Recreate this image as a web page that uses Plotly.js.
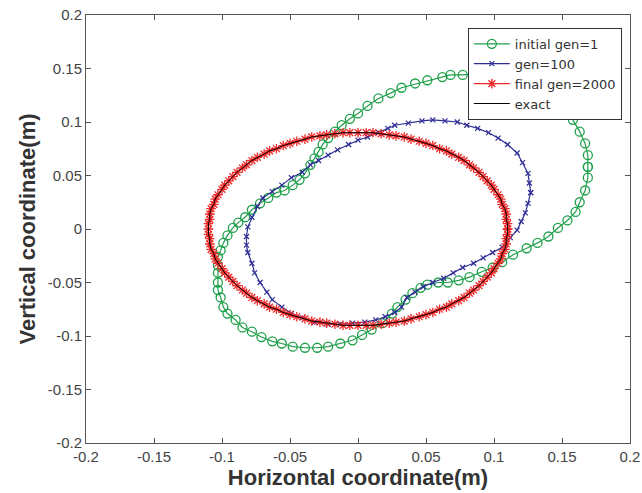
<!DOCTYPE html>
<html>
<head>
<meta charset="utf-8">
<script src="https://cdn.plot.ly/plotly-3.0.1.min.js"></script>
<style>html,body{margin:0;padding:0;background:#fff;}#chart{width:642px;height:493px;}</style>
</head>
<body>
<div id="chart"></div>
<script>
// initial gen=1 (green circles)
const gen1X = [0.169,0.169,0.167,0.163,0.158,0.152,0.146,0.138,0.130,0.122,0.113,0.104,0.096,0.087,0.077,0.068,0.062,0.051,0.042,0.032,0.024,0.015,0.007,0.000,-0.006,-0.012,-0.017,-0.022,-0.026,-0.029,-0.032,-0.035,-0.039,-0.043,-0.048,-0.054,-0.060,-0.066,-0.072,-0.078,-0.083,-0.088,-0.092,-0.096,-0.099,-0.101,-0.103,-0.103,-0.103,-0.103,-0.103,-0.101,-0.099,-0.096,-0.090,-0.085,-0.078,-0.071,-0.063,-0.056,-0.048,-0.039,-0.030,-0.022,-0.013,-0.004,0.003,0.010,0.018,0.025,0.029,0.035,0.040,0.046,0.051,0.059,0.066,0.074,0.082,0.091,0.099,0.106,0.114,0.124,0.132,0.140,0.147,0.154,0.160,0.163,0.167,0.169,0.169];
const gen1Y = [0.058,0.069,0.080,0.091,0.102,0.111,0.120,0.127,0.134,0.138,0.142,0.144,0.145,0.145,0.144,0.144,0.142,0.139,0.136,0.132,0.127,0.122,0.115,0.108,0.103,0.097,0.091,0.085,0.079,0.072,0.066,0.060,0.052,0.046,0.041,0.036,0.034,0.029,0.024,0.018,0.011,0.006,0.001,-0.006,-0.013,-0.020,-0.026,-0.034,-0.041,-0.050,-0.057,-0.064,-0.073,-0.079,-0.085,-0.092,-0.096,-0.101,-0.105,-0.107,-0.110,-0.111,-0.111,-0.110,-0.107,-0.104,-0.099,-0.094,-0.088,-0.079,-0.073,-0.066,-0.060,-0.055,-0.052,-0.050,-0.050,-0.048,-0.045,-0.040,-0.036,-0.031,-0.024,-0.018,-0.013,-0.007,0.001,0.008,0.016,0.025,0.036,0.048,0.058];

// gen=100 (blue crosses)
const gen100X = [0.127,0.126,0.125,0.121,0.117,0.110,0.103,0.096,0.088,0.080,0.073,0.064,0.055,0.047,0.037,0.027,0.022,0.015,0.007,0.000,-0.007,-0.015,-0.022,-0.029,-0.035,-0.041,-0.049,-0.056,-0.063,-0.070,-0.074,-0.078,-0.081,-0.082,-0.082,-0.081,-0.078,-0.076,-0.072,-0.067,-0.063,-0.056,-0.049,-0.041,-0.032,-0.022,-0.013,-0.004,0.005,0.013,0.020,0.027,0.032,0.036,0.042,0.048,0.055,0.063,0.070,0.077,0.085,0.092,0.099,0.106,0.112,0.117,0.120,0.123,0.125,0.127];
const gen100Y = [0.034,0.043,0.052,0.062,0.071,0.079,0.085,0.090,0.094,0.097,0.100,0.101,0.102,0.101,0.099,0.097,0.094,0.090,0.086,0.083,0.079,0.074,0.069,0.064,0.060,0.053,0.048,0.041,0.035,0.029,0.021,0.011,0.002,-0.007,-0.015,-0.022,-0.032,-0.041,-0.050,-0.059,-0.066,-0.073,-0.079,-0.083,-0.087,-0.089,-0.089,-0.088,-0.087,-0.085,-0.082,-0.078,-0.073,-0.064,-0.059,-0.054,-0.050,-0.046,-0.041,-0.036,-0.032,-0.027,-0.022,-0.017,-0.008,-0.001,0.007,0.015,0.024,0.034];

// final gen=2000 (red) and exact (black)
const finalX = [0.110,0.110,0.109,0.109,0.108,0.106,0.105,0.103,0.100,0.098,0.095,0.092,0.089,0.085,0.082,0.078,0.074,0.069,0.065,0.060,0.055,0.050,0.045,0.039,0.034,0.028,0.023,0.017,0.011,0.006,0.000,
 -0.006,-0.011,-0.017,-0.023,-0.028,-0.034,-0.039,-0.045,-0.050,-0.055,-0.060,-0.065,-0.069,-0.074,-0.078,-0.082,-0.085,-0.089,-0.092,-0.095,-0.098,-0.100,-0.103,-0.105,-0.106,-0.108,-0.109,-0.109,-0.110,-0.110,
 -0.110,-0.109,-0.109,-0.108,-0.106,-0.105,-0.103,-0.100,-0.098,-0.095,-0.092,-0.089,-0.085,-0.082,-0.078,-0.074,-0.069,-0.065,-0.060,-0.055,-0.050,-0.045,-0.039,-0.034,-0.028,-0.023,-0.017,-0.011,-0.006,0.000,
 0.006,0.011,0.017,0.023,0.028,0.034,0.039,0.045,0.050,0.055,0.060,0.065,0.069,0.074,0.078,0.082,0.085,0.089,0.092,0.095,0.098,0.100,0.103,0.105,0.106,0.108,0.109,0.109,0.110,0.110];
const finalY = [0.000,0.005,0.009,0.014,0.019,0.023,0.028,0.032,0.037,0.041,0.045,0.049,0.053,0.057,0.060,0.064,0.067,0.070,0.073,0.075,0.078,0.080,0.082,0.084,0.086,0.087,0.088,0.089,0.090,0.090,0.090,
 0.090,0.090,0.089,0.088,0.087,0.086,0.084,0.082,0.080,0.078,0.075,0.073,0.070,0.067,0.064,0.060,0.057,0.053,0.049,0.045,0.041,0.037,0.032,0.028,0.023,0.019,0.014,0.009,0.005,0.000,
 -0.005,-0.009,-0.014,-0.019,-0.023,-0.028,-0.032,-0.037,-0.041,-0.045,-0.049,-0.053,-0.057,-0.060,-0.064,-0.067,-0.070,-0.073,-0.075,-0.078,-0.080,-0.082,-0.084,-0.086,-0.087,-0.088,-0.089,-0.090,-0.090,-0.090,
 -0.090,-0.090,-0.089,-0.088,-0.087,-0.086,-0.084,-0.082,-0.080,-0.078,-0.075,-0.073,-0.070,-0.067,-0.064,-0.060,-0.057,-0.053,-0.049,-0.045,-0.041,-0.037,-0.032,-0.028,-0.023,-0.019,-0.014,-0.009,-0.005,0.000];

const tickVals = [-0.2,-0.15,-0.1,-0.05,0,0.05,0.1,0.15,0.2];
const tickText = ['-0.2','-0.15','-0.1','-0.05','0','0.05','0.1','0.15','0.2'];

const FONT = 'Liberation Sans, Arial, sans-serif';
const GREEN = '#1fa04a', BLUE = '#2e2e96', RED = '#f02828';

const traces = [
  {x: gen1X, y: gen1Y, name: 'initial gen=1', type: 'scatter', mode: 'lines+markers',
   line: {color: GREEN, width: 1.2},
   marker: {symbol: 'circle-open', size: 9, color: GREEN, line: {width: 1.3, color: GREEN}}},
  {x: gen100X, y: gen100Y, name: 'gen=100', type: 'scatter', mode: 'lines+markers',
   line: {color: BLUE, width: 1.2},
   marker: {symbol: 'x-thin-open', size: 5, color: BLUE, line: {width: 1.2, color: BLUE}}},
  {x: finalX, y: finalY, name: 'final gen=2000', type: 'scatter', mode: 'lines+markers',
   line: {color: RED, width: 1.2},
   marker: {symbol: 'asterisk-open', size: 8, color: RED, line: {width: 1.3, color: RED}}},
  {x: finalX, y: finalY, name: 'exact', type: 'scatter', mode: 'lines',
   line: {color: '#000000', width: 1}}
];

const axisCommon = {
  range: [-0.2, 0.2], tickvals: tickVals, ticktext: tickText,
  showgrid: false, zeroline: false, showline: true, linecolor: '#555', linewidth: 1,
  mirror: 'ticks', ticks: 'inside', ticklen: 5, tickcolor: '#555', tickwidth: 1,
  tickfont: {family: FONT, size: 15, color: '#444'}
};

const layout = {
  width: 642, height: 493,
  margin: {l: 86, r: 12, t: 15, b: 50},
  paper_bgcolor: '#fff', plot_bgcolor: '#fff',
  showlegend: true,
  legend: {x: 0.985, y: 0.97, xanchor: 'right', yanchor: 'top',
    bgcolor: '#fff', bordercolor: '#333', borderwidth: 1,
    font: {family: 'DejaVu Sans, Liberation Sans, sans-serif', size: 13, color: '#333'},
    tracegroupgap: 0, itemwidth: 36},
  xaxis: Object.assign({}, axisCommon, {
    title: {text: 'Horizontal coordinate(m)', font: {family: FONT, size: 22, color: '#333', weight: 'bold'}, standoff: 4}}),
  yaxis: Object.assign({}, axisCommon, {
    title: {text: 'Vertical coordinate(m)', font: {family: FONT, size: 22, color: '#333', weight: 'bold'}, standoff: 6}})
};

Plotly.newPlot('chart', traces, layout, {displayModeBar: false, staticPlot: true});
</script>
</body>
</html>
